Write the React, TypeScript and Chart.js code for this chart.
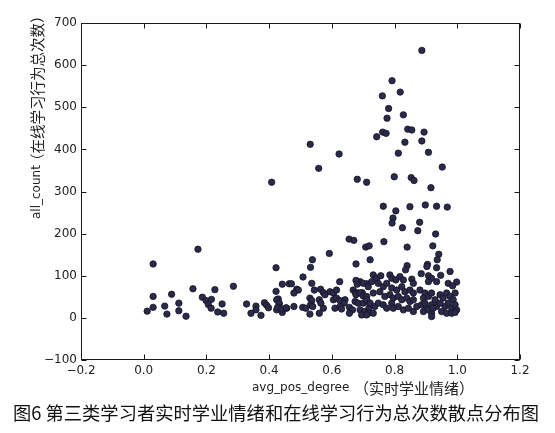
import React, { useEffect, useRef } from "react";
import { Chart, registerables } from "chart.js";

Chart.register(...registerables);

// avg_pos_degree (实时学业情绪)
const xValues: number[] = [
  0.030, 0.173, 0.030, 0.030, 0.011, 0.067, 0.074, 0.089, 0.112, 0.112, 0.135, 0.157, 0.187, 0.199, 0.206, 0.215, 0.216, 0.227, 0.236, 0.250, 0.255, 0.286, 0.328, 0.342, 0.358, 0.358, 0.374, 0.385, 0.392, 0.398,
  0.422, 0.422, 0.442, 0.429, 0.432, 0.424, 0.442, 0.456, 0.464,
  0.531, 0.623, 0.558, 0.408, 0.812, 0.681, 0.711, 0.799, 0.764, 0.804, 0.795, 0.792, 0.655, 0.670, 0.708, 0.719, 0.766, 0.592, 0.538, 0.532, 0.508, 0.722, 0.677, 0.625, 0.536, 0.471,
  0.887, 0.792, 0.818, 0.761, 0.781, 0.828, 0.776, 0.842, 0.855, 0.894, 0.762, 0.773, 0.743, 0.833, 0.887, 0.908, 0.952, 0.853, 0.862,
  0.916, 0.849, 0.898, 0.934, 0.968, 0.825, 0.880, 0.874, 0.931, 0.840, 0.922, 0.941, 0.936, 0.905, 0.903, 0.934, 0.977, 0.840, 0.835, 0.885, 0.947,
  0.488, 0.493, 0.479, 0.544, 0.564, 0.573, 0.578, 0.594, 0.605, 0.615, 0.668, 0.675, 0.684, 0.697, 0.690, 0.677, 0.681, 0.711, 0.716,
  0.424, 0.432, 0.427, 0.440, 0.454, 0.479, 0.507, 0.517, 0.530, 0.536, 0.532, 0.539, 0.560, 0.565, 0.573, 0.530, 0.560,
  0.605, 0.615, 0.626, 0.642, 0.639, 0.610, 0.626, 0.631, 0.656, 0.666,
  0.677, 0.690, 0.700, 0.711, 0.674, 0.684, 0.700, 0.713, 0.690, 0.704, 0.718, 0.716, 0.656, 0.695,
  0.908, 0.918, 0.934, 0.908, 0.998, 0.971, 0.985,
  0.732, 0.743, 0.756, 0.785, 0.791, 0.804, 0.817, 0.828, 0.855, 0.860,
  0.700, 0.727,
  0.748, 0.764, 0.775, 0.791, 0.807, 0.823, 0.833, 0.849, 0.860,
  0.732, 0.753, 0.769, 0.785, 0.796, 0.812, 0.823, 0.839, 0.849, 0.860,
  0.711, 0.722, 0.737, 0.748, 0.764, 0.775, 0.791, 0.796, 0.812, 0.828, 0.844, 0.860, 0.871,
  0.711, 0.732,
  0.881, 0.897, 0.892, 0.908, 0.918, 0.929, 0.945, 0.955, 0.966, 0.977, 0.987, 0.993,
  0.886, 0.902, 0.897, 0.918, 0.934, 0.945, 0.961, 0.971, 0.982, 0.993, 0.998,
  0.892, 0.908, 0.918, 0.950, 0.966, 0.982, 0.993, 0.923, 0.918,
];

// all_count (在线学习行为总次数)
const yValues: number[] = [
  128, 163, 51, 25, 16, 28, 9, 56, 35, 17, 4, 69, 49, 41, 32, 23, 44, 67, 14, 33, 11, 75, 33, 11, 28, 19, 6, 36, 30, 24,
  119, 63, 80, 45, 33, 19, 13, 23, 81,
  412, 389, 355, 322, 391, 329, 322, 335, 265, 254, 237, 225, 187, 184, 168, 171, 181, 153, 138, 120, 97, 138, 128, 86, 82, 81,
  635, 563, 536, 527, 497, 482, 474, 448, 446, 441, 441, 438, 430, 417, 420, 393, 358, 333, 326,
  309, 264, 268, 265, 263, 214, 227, 207, 199, 168, 171, 151, 138, 127, 122, 119, 110, 124, 114, 105, 101,
  68, 66, 59, 66, 68, 60, 55, 62, 59, 66, 66, 60, 59, 60, 86, 89, 80, 81, 74,
  43, 35, 25, 21, 24, 27, 25, 23, 47, 41, 31, 27, 43, 35, 23, 9, 11,
  43, 47, 41, 43, 35, 23, 27, 21, 25, 19,
  55, 59, 52, 51, 39, 35, 35, 39, 19, 15, 23, 11, 11, 7,
  100, 94, 86, 86, 85, 82, 76,
  102, 94, 100, 102, 94, 90, 98, 90, 92, 82,
  82, 86,
  82, 74, 82, 71, 66, 74, 62, 66, 59,
  59, 62, 51, 55, 47, 51, 43, 47, 39, 43,
  43, 35, 27, 35, 31, 23, 35, 23, 27, 19, 23, 15, 27,
  7, 11,
  66, 59, 47, 51, 59, 43, 55, 47, 59, 51, 43, 59,
  31, 23, 35, 31, 27, 35, 27, 35, 23, 31, 19,
  15, 19, 11, 15, 11, 11, 13, 23, 3,
];

const xTickMin = -0.2;
const xTickMax = 1.2;
const xTickStep = 0.2;
const yTickMin = -100;
const yTickMax = 700;
const yTickStep = 100;

const xTitleLatin = "avg_pos_degree";
const xTitleCJK = "（实时学业情绪）";
const yTitleLatin = "all_count";
const yTitleCJK = "（在线学习行为总次数）";
const caption = "图6 第三类学习者实时学业情绪和在线学习行为总次数散点分布图";

const W = 555;
const H = 433;

const fmt = (v: number, digits: number) => {
  const n = Math.abs(v) < 1e-9 ? 0 : v;
  return n.toFixed(digits).replace("-", "\u2212");
};

const LATIN_FONT = '12px "DejaVu Sans", sans-serif';

const framePlugin = {
  id: "frameAndTexts",
  afterDraw(chart: any) {
    const { ctx, chartArea: a, scales } = chart;
    const L = Math.round(a.left) + 0.5;
    const R = Math.round(a.right) - 0.5;
    const T = Math.round(a.top) + 0.5;
    const B = Math.round(a.bottom) - 0.5;
    ctx.save();
    ctx.strokeStyle = "#1a1a1a";
    ctx.lineWidth = 1;
    ctx.strokeRect(L, T, R - L, B - T);
    const tl = 5;
    ctx.beginPath();
    scales.x.ticks.forEach((t: any) => {
      const px = Math.round(scales.x.getPixelForValue(t.value)) + 0.5;
      ctx.moveTo(px, B);
      ctx.lineTo(px, B - tl);
      ctx.moveTo(px, T);
      ctx.lineTo(px, T + tl);
    });
    scales.y.ticks.forEach((t: any) => {
      const py = Math.round(scales.y.getPixelForValue(t.value)) + 0.5;
      ctx.moveTo(L, py);
      ctx.lineTo(L + tl, py);
      ctx.moveTo(R, py);
      ctx.lineTo(R - tl, py);
    });
    ctx.stroke();

    // x axis title
    ctx.fillStyle = "#222";
    ctx.textBaseline = "middle";
    ctx.textAlign = "left";
    ctx.font = LATIN_FONT;
    ctx.fillText(xTitleLatin, 252, 388);
    ctx.font = '15px "Noto Sans CJK SC", sans-serif';
    ctx.fillText(xTitleCJK, 354, 388);

    // y axis title (rotated)
    ctx.save();
    ctx.translate(37, 0);
    ctx.rotate(-Math.PI / 2);
    ctx.font = LATIN_FONT;
    ctx.fillText(yTitleLatin, -219, 0);
    ctx.font = '14.5px "Noto Sans CJK SC", sans-serif';
    ctx.fillText(yTitleCJK, -168, 0);
    ctx.restore();

    // caption
    ctx.fillStyle = "#111";
    ctx.font = '18.3px "Noto Sans CJK SC", sans-serif';
    ctx.textBaseline = "middle";
    ctx.fillText(caption, 13, 413);
    ctx.restore();
  },
};

export default function App() {
  const ref = useRef<HTMLCanvasElement>(null);

  useEffect(() => {
    if (!ref.current) return;
    const points = xValues.map((x, i) => ({ x, y: yValues[i] }));
    const tickFont = { family: '"DejaVu Sans", sans-serif', size: 12 };
    const chart = new Chart(ref.current, {
      type: "scatter",
      data: {
        datasets: [
          {
            data: points,
            pointRadius: 3.2,
            pointHoverRadius: 3.2,
            backgroundColor: "#2a2a4c",
            borderColor: "#14141f",
            borderWidth: 0.8,
          },
        ],
      },
      options: {
        responsive: false,
        animation: false,
        devicePixelRatio: 1,
        layout: { padding: { top: 23, right: 35, left: 0, bottom: 0 } },
        plugins: {
          legend: { display: false },
          tooltip: { enabled: false },
          title: { display: false },
        },
        scales: {
          x: {
            type: "linear",
            min: xTickMin,
            max: xTickMax,
            grid: { display: false, drawTicks: false },
            border: { display: false },
            ticks: {
              stepSize: xTickStep,
              font: tickFont,
              color: "#222",
              padding: 4,
              maxRotation: 0,
              autoSkip: false,
              callback: (v: any) => fmt(Number(v), 1),
            },
            afterFit: (s: any) => {
              s.height = H - 360;
            },
          },
          y: {
            type: "linear",
            min: yTickMin,
            max: yTickMax,
            grid: { display: false, drawTicks: false },
            border: { display: false },
            ticks: {
              stepSize: yTickStep,
              font: tickFont,
              color: "#222",
              padding: 4,
              autoSkip: false,
              callback: (v: any) => fmt(Number(v), 0),
            },
            afterFit: (s: any) => {
              s.width = 81;
            },
          },
        },
      },
      plugins: [framePlugin],
    } as any);
    return () => chart.destroy();
  }, []);

  return (
    <div style={{ position: "fixed", left: 0, top: 0, width: W, height: H, background: "#fff" }}>
      <canvas ref={ref} width={W} height={H} style={{ display: "block", width: W, height: H }} />
    </div>
  );
}
